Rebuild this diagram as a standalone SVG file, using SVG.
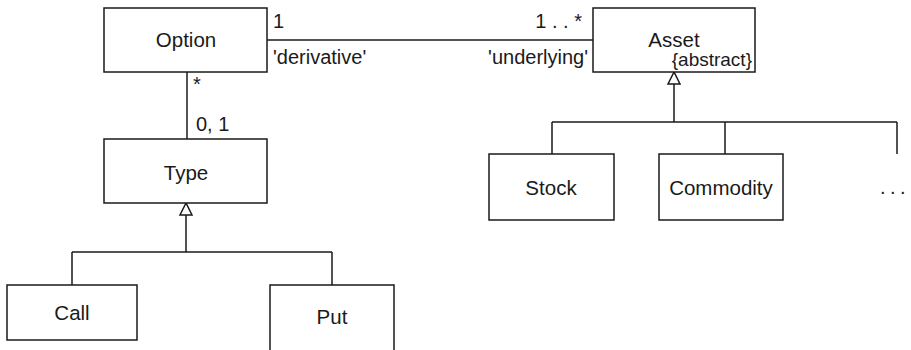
<svg xmlns="http://www.w3.org/2000/svg" width="911" height="350" viewBox="0 0 911 350">
<style>
.box{fill:#fff;stroke:#1a1a1a;stroke-width:1.5}
.ln{fill:none;stroke:#1a1a1a;stroke-width:1.5}
.tri{fill:#fff;stroke:#1a1a1a;stroke-width:1.5;stroke-linejoin:miter}
.n{font-family:"Liberation Sans",Arial,sans-serif;font-size:20.5px;fill:#1a1a1a;text-anchor:middle}
.l{font-family:"Liberation Sans",Arial,sans-serif;font-size:20px;fill:#1a1a1a}
.s{font-family:"Liberation Sans",Arial,sans-serif;font-size:19px;fill:#1a1a1a;text-anchor:end}
</style>
<rect width="911" height="350" fill="#fff"/>
<g id="connectors">
  <line class="ln" x1="267" y1="40" x2="593" y2="40"/>
  <line class="ln" x1="187" y1="72" x2="187" y2="139"/>
  <path class="ln" d="M186 215 V252 M72 252 H332 M72 252 V285 M332 252 V285"/>
  <polygon class="tri" points="186,203 180,215 192,215"/>
  <path class="ln" d="M674 84 V122 M552 122 H897 M552 122 V154 M725 122 V154 M897 122 V154"/>
  <polygon class="tri" points="674,72 668,84 680,84"/>
  <text class="l" x="273" y="28">1</text>
  <text class="l" x="273" y="64">'derivative'</text>
  <text class="l" x="582" y="28" text-anchor="end">1 . . *</text>
  <text class="l" x="588" y="64" text-anchor="end">'underlying'</text>
  <text class="l" x="193" y="91">*</text>
  <text class="l" x="196" y="131">0, 1</text>
</g>
<g id="option"><rect class="box" x="104" y="8" width="163" height="64"/><text class="n" x="186" y="47">Option</text></g>
<g id="asset"><rect class="box" x="593" y="8" width="162" height="64"/><text class="n" x="674" y="47">Asset</text><text class="s" x="752" y="66">{abstract}</text></g>
<g id="type"><rect class="box" x="104" y="139" width="163" height="64"/><text class="n" x="186" y="180">Type</text></g>
<g id="call"><rect class="box" x="7" y="285" width="130" height="55"/><text class="n" x="72" y="320">Call</text></g>
<g id="put"><rect class="box" x="270" y="285" width="124" height="70"/><text class="n" x="332" y="324">Put</text></g>
<g id="stock"><rect class="box" x="489" y="154" width="125" height="66"/><text class="n" x="551" y="195">Stock</text></g>
<g id="commodity"><rect class="box" x="659" y="154" width="124" height="66"/><text class="n" x="721" y="195">Commodity</text></g>
<g id="more"><text class="l" x="880 885 890 895 900" y="194">. . .</text></g>
</svg>
